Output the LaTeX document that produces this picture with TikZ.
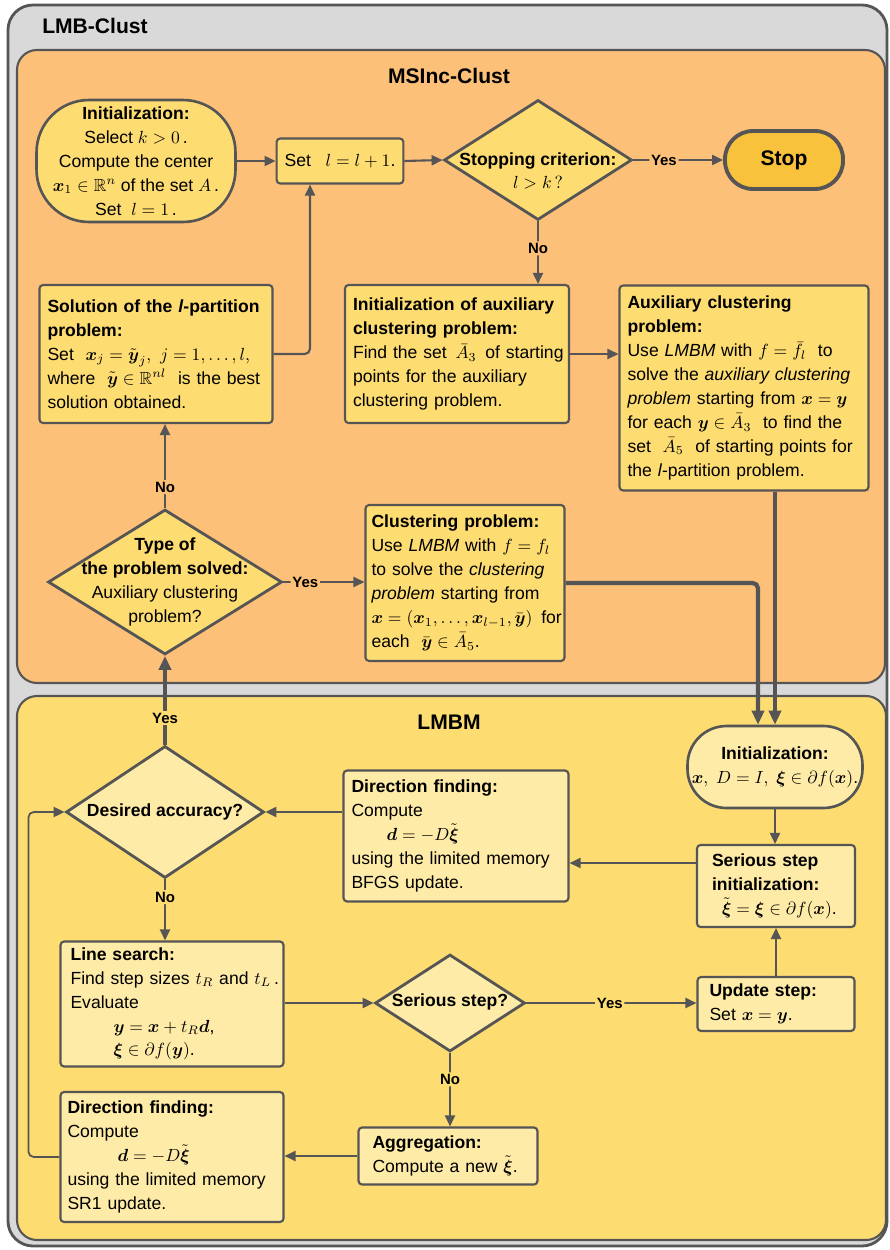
\documentclass[tikz,border=0pt]{standalone}
\usepackage{amsmath}
\usepackage{amssymb}
\usepackage[no-math]{fontspec}
\setmainfont{Liberation Sans}
\usetikzlibrary{shapes.geometric, arrows.meta, calc}

\definecolor{linec}{HTML}{555555}
\definecolor{graybg}{HTML}{D9D9D9}
\definecolor{orangebg}{HTML}{FCC078}
\definecolor{msyellow}{HTML}{FDDC72}
\definecolor{lmyellow}{HTML}{FEEBA7}
\definecolor{stopfill}{HTML}{F9C23C}

\begin{document}
\begin{tikzpicture}[
    x = 0.02cm, y = -0.02cm,
    txt/.style={font=\fontsize{10}{13.6}\selectfont},
    block/.style={draw=linec, line width=1.2pt, fill=msyellow, rectangle, rounded corners=2pt, align=left, inner xsep=0.16cm, inner ysep=0pt, txt},
    lblock/.style={block, fill=lmyellow},
    terminal/.style={draw=linec, line width=1.5pt, fill=msyellow, rectangle, align=center, inner sep=0pt, txt},
    decision/.style={draw=linec, line width=1.6pt, fill=msyellow, diamond, inner sep=0pt},
    arrow/.style={-{Triangle[length=0.22cm, width=0.2cm]}, line width=1.2pt, draw=linec, rounded corners=3pt},
    bigarrow/.style={arrow, -{Triangle[length=0.28cm, width=0.24cm]}, line width=2.4pt},
    answer/.style={font=\bfseries\fontsize{8.5}{10}\selectfont, inner sep=1pt},
    frame/.style={draw=linec, line width=1.2pt, rounded corners=0.4cm},
    title/.style={font=\bfseries\fontsize{12}{14}\selectfont}
]
    \useasboundingbox (0,0) rectangle (889,1250);

    % Frames
    \draw[frame, line width=1.6pt, rounded corners=0.5cm, fill=graybg] (8,5) rectangle (887,1246);
    \draw[frame, fill=orangebg] (17,50) rectangle (885,683);
    \draw[frame, fill=msyellow] (17,696) rectangle (886,1240);
    \node[title] (lmbclust) at (95,26) {LMB-Clust};
    \node[title] (msinc) at (449,76) {MSInc-Clust};
    \node[title] (lmbm) at (449,722) {LMBM};

    % Initialization
    \node[terminal, minimum width=3.98cm, minimum height=2.44cm, rounded corners=1.05cm] (init) at (136,161)
        {\textbf{Initialization:}\\ Select $k>0$\,.\\ Compute the center\\ $\boldsymbol{x}_1\in\mathbb{R}^n$ of the set $A$\,.\\ Set \ $l=1$\,.};

    % Set l = l+1
    \node[block, minimum width=2.44cm, minimum height=0.9cm] (setl) at (340,161) {Set \ \ $l=l+1$.};

    % Stopping criterion
    \node[decision, minimum width=3.76cm, minimum height=2.4cm] (stopcrit) at (538,160) {};
    \node[txt, align=center] (stopcrit-text) at (538,171) {\textbf{Stopping criterion:}\\ $l>k\,?$};

    % Stop
    \node[terminal, fill=stopfill, line width=2.2pt, minimum width=2.36cm, minimum height=1.16cm, rounded corners=0.56cm,
        font=\bfseries\fontsize{12}{14}\selectfont] (stop) at (784,160) {Stop};

    % Solution of the l-partition problem
    \node[block, text width=4.34cm, minimum width=4.66cm, minimum height=2.76cm] (solution) at (156,354)
        {\textbf{Solution of the \textit{l}-partition}\\ \textbf{problem:}\\ Set \ $\boldsymbol{x}_j=\tilde{\boldsymbol{y}}_j,\ j=1,\dots,l,$\\ where \ $\tilde{\boldsymbol{y}}\in\mathbb{R}^{nl}$ \ is the best\\ solution obtained.};

    % Initialization of auxiliary problem
    \node[block, text width=4.16cm, minimum width=4.48cm, minimum height=2.76cm] (auxinit) at (457,354)
        {\textbf{Initialization of auxiliary}\\ \textbf{clustering problem:}\\ \mbox{Find the set \,$\bar{A}_3$\, of starting}\\ points for the auxiliary\\ clustering problem.};

    % Auxiliary clustering problem
    \node[block, text width=4.66cm, minimum width=4.98cm, minimum height=4.1cm] (auxclust) at (744,388)
        {\textbf{Auxiliary clustering}\\ \textbf{problem:}\\ Use \textit{LMBM} with $f=\bar{f}_l$ \ to\\ solve the \textit{auxiliary clustering}\\ \mbox{\textit{problem} starting from $\boldsymbol{x}=\boldsymbol{y}$}\\ \mbox{for each $\boldsymbol{y}\in\bar{A}_3$ \ to find the}\\ set \ $\bar{A}_5$ \ of starting points for\\ the \textit{l}-partition problem.};

    % Type of the problem solved
    \node[decision, minimum width=4.68cm, minimum height=2.9cm] (type) at (165,582) {};
    \node[txt, align=center] (type-text) at (165,582) {\textbf{Type of}\\ \textbf{the problem solved:}\\ Auxiliary clustering\\ problem?};

    % Clustering problem
    \node[block, inner xsep=0.12cm, text width=3.74cm, minimum width=3.98cm, minimum height=3.12cm] (clust) at (465,583)
        {\textbf{Clustering problem:}\\ Use \textit{LMBM} with $f=f_l$\\ to solve the \textit{clustering}\\ \textit{problem} starting from\\ \mbox{$\boldsymbol{x}=(\boldsymbol{x}_1,\dots,\boldsymbol{x}_{l-1},\bar{\boldsymbol{y}})$\, for}\\ each \ $\bar{\boldsymbol{y}}\in\bar{A}_5$.};

    % LMBM initialization
    \node[terminal, fill=lmyellow, minimum width=3.5cm, minimum height=1.64cm, rounded corners=0.78cm] (lminit) at (775,767)
        {\textbf{Initialization:}\\ $\boldsymbol{x},\ D=I,\ \boldsymbol{\xi}\in\partial f(\boldsymbol{x})$.};

    % Serious step initialization
    \node[lblock, inner xsep=0.3cm, text width=2.56cm, minimum width=3.16cm, minimum height=1.64cm] (serinit) at (776,886)
        {\textbf{Serious step}\\ \textbf{initialization:}\\ \hspace*{0.2cm}$\tilde{\boldsymbol{\xi}}=\boldsymbol{\xi}\in\partial f(\boldsymbol{x})$.};

    % Direction finding (BFGS)
    \node[lblock, text width=4.18cm, minimum width=4.5cm, minimum height=2.62cm] (dirbfgs) at (456,836)
        {\textbf{Direction finding:}\\ Compute\\ \hspace*{0.7cm}$\boldsymbol{d}=-D\tilde{\boldsymbol{\xi}}$\\ using the limited memory\\ BFGS update.};

    % Desired accuracy
    \node[decision, fill=lmyellow, minimum width=3.96cm, minimum height=2.64cm] (accuracy) at (165,812) {};
    \node[txt, align=center] (accuracy-text) at (165,812) {\textbf{Desired accuracy?}};

    % Line search
    \node[lblock, inner xsep=0.2cm, text width=4.06cm, minimum width=4.46cm, minimum height=2.5cm] (linesearch) at (172,1004)
        {\textbf{Line search:}\\ \mbox{Find step sizes $t_R$ and $t_L$\,.}\\ Evaluate\\ \hspace*{0.86cm}$\boldsymbol{y}=\boldsymbol{x}+t_R\boldsymbol{d}$,\\ \hspace*{0.86cm}$\boldsymbol{\xi}\in\partial f(\boldsymbol{y})$.};

    % Serious step
    \node[decision, fill=lmyellow, minimum width=3cm, minimum height=1.94cm] (serious) at (450,1003) {};
    \node[txt, align=center] (serious-text) at (450,1002) {\textbf{Serious step?}};

    % Update step
    \node[lblock, inner xsep=0.24cm, text width=2.66cm, minimum width=3.14cm, minimum height=1.08cm] (update) at (776,1004)
        {\textbf{Update step:}\\ Set $\boldsymbol{x}=\boldsymbol{y}$.};

    % Aggregation
    \node[lblock, inner xsep=0.28cm, text width=3.02cm, minimum width=3.58cm, minimum height=1.14cm] (aggr) at (448,1156)
        {\textbf{Aggregation:}\\ Compute a new $\tilde{\boldsymbol{\xi}}$.};

    % Direction finding (SR1)
    \node[lblock, inner xsep=0.14cm, text width=4.18cm, minimum width=4.46cm, minimum height=2.6cm] (dirsr1) at (172,1157)
        {\textbf{Direction finding:}\\ Compute\\ \hspace*{1cm}$\boldsymbol{d}=-D\tilde{\boldsymbol{\xi}}$\\ using the limited memory\\ SR1 update.};

    % Arrows (MSInc-Clust)
    \draw[arrow] (init.east) -- (setl.west);
    \draw[arrow] (setl.east) -- (stopcrit.west);
    \draw[arrow] (stopcrit.east) -- node[answer, fill=orangebg, pos=0.34] {Yes} (stop.west);
    \draw[arrow] (stopcrit.south) -- node[answer, fill=orangebg, pos=0.43] {No} (stopcrit.south |- auxinit.north);
    \draw[arrow] (auxinit.east) -- (auxinit.east -| auxclust.west);
    \draw[arrow] (solution.east) -| ($(setl.south)+(-30,0)$);
    \draw[arrow] (type.north) -- node[answer, fill=orangebg, pos=0.25] {No} (type.north |- solution.south);
    \draw[arrow] (type.east) -- node[answer, fill=orangebg, pos=0.27] {Yes} (type.east -| clust.west);
    \draw[bigarrow] (clust.east) -| ($(lminit.north)+(-17,0)$);
    \draw[bigarrow] (lminit.north |- auxclust.south) -- (lminit.north);

    % Arrows (LMBM)
    \draw[arrow] (lminit.south) -- (lminit.south |- serinit.north);
    \draw[arrow] (update.north) -- (update.north |- serinit.south);
    \coordinate (sbfgs) at ($(serinit.west)+(0,-23)$);
    \draw[arrow] (sbfgs) -- (sbfgs -| dirbfgs.east);
    \draw[arrow] (dirbfgs.west |- accuracy.east) -- (accuracy.east);
    \draw[bigarrow] (accuracy.north) -- node[answer, fill=msyellow, pos=0.3] {Yes} (accuracy.north |- type.south);
    \draw[arrow] (accuracy.south) -- node[answer, fill=msyellow, pos=0.29] {No} (accuracy.south |- linesearch.north);
    \draw[arrow] (linesearch.east |- serious.west) -- (serious.west);
    \draw[arrow] (serious.east) -- node[answer, fill=msyellow, pos=0.49] {Yes} (serious.east -| update.west);
    \draw[arrow] (serious.south) -- node[answer, fill=msyellow, pos=0.36] {No} (serious.south |- aggr.north);
    \draw[arrow] (aggr.west) -- (aggr.west -| dirsr1.east);
    \draw[arrow, line width=1pt] (dirsr1.west) -- ++(-31,0) |- (accuracy.west);
\end{tikzpicture}
\end{document}
